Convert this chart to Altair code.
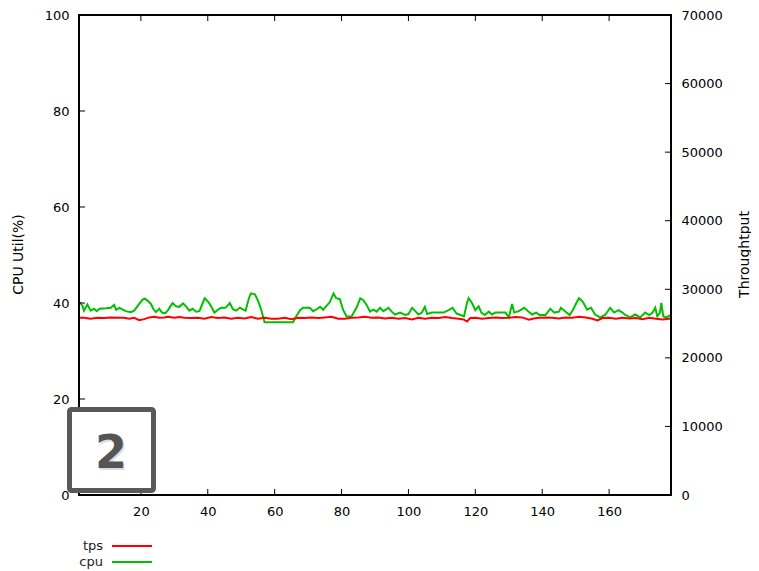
import altair as alt
import pandas as pd

cpu_x = [1.5, 2.5, 3.0, 4.0, 5.0, 6.0, 6.8, 7.6, 9.6, 11.0, 12.0, 12.6, 13.6, 14.6, 15.5, 17.0, 18.0,
         19.5, 20.5, 21.2, 22.0, 23.0, 23.7, 24.5, 25.5, 26.3, 27.3, 28.0, 29.0, 29.5, 30.5, 31.5,
         32.6, 33.5, 34.5, 35.5, 36.5, 37.5, 38.5, 39.1, 40.2, 41.0, 42.0, 43.0, 44.0, 45.3, 46.6,
         47.5, 48.5, 49.6, 50.6, 51.3, 52.3, 52.9, 54.1, 55.0, 55.8, 57.0, 65.5, 66.5, 67.6, 68.5,
         70.5, 71.5, 72.8, 73.6, 74.5, 75.5, 76.5, 77.6, 78.4, 79.5, 80.5, 81.5, 83.0, 84.6, 85.6,
         86.5, 87.5, 88.5, 89.5, 90.5, 91.5, 92.5, 93.2, 94.0, 95.0, 96.0, 97.5, 99.0, 100.0, 101.1,
         102.2, 103.0, 104.0, 104.9, 105.6, 107.0, 110.5, 112.0, 113.2, 114.4, 115.6, 116.6, 117.5,
         118.0, 119.0, 120.0, 121.0, 121.8, 122.8, 124.0, 125.0, 126.0, 129.0, 130.0, 131.0, 131.6,
         133.0, 134.6, 135.6, 137.0, 138.2, 139.2, 141.0, 142.4, 143.6, 145.0, 145.6, 146.8, 148.2,
         149.2, 150.2, 151.0, 152.2, 153.4, 154.6, 155.8, 157.3, 158.8, 160.3, 161.5, 162.8, 164.0,
         164.8, 166.3, 167.8, 169.3, 170.8, 172.0, 173.0, 173.8, 174.4, 175.2, 175.6, 176.2, 177.0,
         178.5]
cpu_v = [40.3, 39.5, 38.4, 39.7, 38.4, 38.8, 38.3, 38.8, 38.9, 39.0, 39.6, 38.6, 39.0, 38.6, 38.3,
         38.1, 38.4, 39.8, 40.7, 40.9, 40.5, 39.8, 38.8, 38.1, 38.8, 38.0, 37.9, 38.4, 39.5, 40.0,
         39.3, 39.2, 39.9, 39.3, 38.4, 38.8, 38.2, 38.3, 40.0, 41.0, 40.2, 39.3, 38.0, 38.6, 39.0,
         39.0, 40.0, 38.7, 38.4, 39.0, 38.6, 38.4, 41.0, 42.0, 41.8, 40.5, 39.0, 36.0, 36.0, 37.3,
         38.5, 39.0, 39.0, 38.3, 38.8, 39.2, 38.6, 39.4, 40.2, 42.0, 41.0, 40.8, 38.5, 37.2, 37.2,
         39.2, 41.0, 40.6, 39.6, 38.2, 38.6, 38.2, 39.0, 38.3, 38.6, 39.0, 38.2, 37.6, 38.0, 37.5,
         37.7, 39.0, 38.2, 37.6, 38.0, 39.2, 37.7, 38.0, 38.0, 38.5, 39.0, 37.8, 37.5, 37.2, 40.0,
         41.0, 40.0, 38.5, 39.3, 38.0, 37.5, 38.2, 37.6, 38.0, 38.0, 37.0, 39.8, 38.0, 38.3, 39.0,
         38.4, 37.6, 38.0, 37.5, 37.5, 38.8, 38.0, 38.2, 39.0, 38.3, 37.5, 38.6, 40.0, 41.0, 40.2,
         38.6, 39.0, 37.6, 37.0, 37.5, 39.0, 38.0, 38.5, 38.0, 37.5, 37.0, 37.6, 37.0, 38.0, 37.5,
         38.0, 39.0, 37.2, 38.0, 40.0, 37.2, 37.0, 37.5]

tps_x = [1.5, 3, 5, 7, 9, 11, 13, 15, 16.5, 18, 19.5, 21, 22.5, 24, 25.5, 27, 28, 30, 31.5, 33, 35,
         37, 39, 41, 43, 45, 47, 49, 51, 53, 55, 57, 59, 61, 63, 65, 67, 69, 71, 73, 75, 77, 79, 81,
         83, 85, 87, 89, 91, 93, 95, 97, 99, 101, 103, 105, 107, 109, 111, 113, 115, 116.5, 117.5,
         118.5, 120, 122, 124, 126, 128, 130, 132, 134, 136, 137.5, 139, 141, 143, 145, 147, 149,
         151, 153, 155, 156.5, 158, 160, 162, 164, 166, 168, 170, 172, 174, 176, 178.5]
tps_v = [25850, 25850, 25700, 25850, 25800, 25900, 25850, 25850, 25700, 25850, 25500, 25650, 25900,
         26000, 25850, 25900, 26000, 25850, 25950, 25850, 25800, 25850, 25700, 25950, 25800, 25900,
         25700, 25850, 25750, 25950, 25700, 25850, 25700, 25700, 25850, 25650, 25850, 25800, 25900,
         25800, 25900, 26000, 25700, 25700, 25850, 25900, 26000, 25850, 25900, 25750, 25850, 25700,
         25800, 25600, 25850, 25700, 25850, 25800, 25950, 25800, 25700, 25600, 25300, 25800, 25850,
         25700, 25800, 25900, 25800, 25850, 25950, 25900, 25550, 25750, 25850, 25900, 25850, 25750,
         25900, 25850, 26000, 25900, 25700, 25450, 25800, 25850, 25700, 25850, 25750, 25800, 25650,
         25850, 25700, 25600, 25750]

x_ticks = [20, 40, 60, 80, 100, 120, 140, 160]
y_ticks = [0, 20, 40, 60, 80, 100]
y2_ticks = [0, 10000, 20000, 30000, 40000, 50000, 60000, 70000]
series_names = ["tps", "cpu"]
series_colors = ["#ff0000", "#00c000"]
badge_label = "2"

W, H = 592, 480
FONT = "DejaVu Sans"

cpu_df = pd.DataFrame({"x": cpu_x, "v": cpu_v})
tps_df = pd.DataFrame({"x": tps_x, "v": tps_v})
xt_df = pd.DataFrame({"t": x_ticks})
yt_df = pd.DataFrame({"t": y_ticks})
y2t_df = pd.DataFrame({"t": y2_ticks})
one = pd.DataFrame({"a": [0]})

xscale = alt.Scale(domain=[1.5, 178.5], nice=False, zero=False)
yscale = alt.Scale(domain=[0, 100], nice=False)
y2scale = alt.Scale(domain=[0, 70000], nice=False)

common_axis = dict(domain=False, ticks=False, tickSize=0, grid=False, labelFont=FONT,
                   labelFontSize=13, labelColor="#000", titleFont=FONT, titleFontSize=14,
                   titleFontWeight="normal", titleColor="#000")

cpu_line = alt.Chart(cpu_df).mark_line(color=series_colors[1], strokeWidth=2).encode(
    x=alt.X("x:Q", scale=xscale,
            axis=alt.Axis(values=x_ticks, labelPadding=10, title=None, format="d", **common_axis)),
    y=alt.Y("v:Q", scale=yscale,
            axis=alt.Axis(orient="left", values=y_ticks, labelPadding=10, title="CPU Util(%)",
                          format="d", titleX=-61, titleY=239, titleAngle=270, titleAlign="center",
                          titleBaseline="middle", **common_axis)),
)

tps_line = alt.Chart(tps_df).mark_line(color=series_colors[0], strokeWidth=2).encode(
    x=alt.X("x:Q", scale=xscale),
    y=alt.Y("v:Q", scale=y2scale,
            axis=alt.Axis(orient="right", values=y2_ticks, labelPadding=10, title="Throughtput",
                          format="d", titleX=73, titleY=239, titleAngle=270, titleAlign="center",
                          titleBaseline="middle", **common_axis)),
)

tick_style = dict(color="#000", strokeWidth=1)
left_ticks = alt.Chart(yt_df).mark_rule(**tick_style).encode(
    y=alt.Y("t:Q", scale=yscale, axis=None), x=alt.value(0), x2=alt.value(6))
right_ticks = alt.Chart(y2t_df).mark_rule(**tick_style).encode(
    y=alt.Y("t:Q", scale=y2scale, axis=None), x=alt.value(W - 6), x2=alt.value(W))
bottom_ticks = alt.Chart(xt_df).mark_rule(**tick_style).encode(
    x=alt.X("t:Q", scale=xscale), y=alt.value(H - 6), y2=alt.value(H))
top_ticks = alt.Chart(xt_df).mark_rule(**tick_style).encode(
    x=alt.X("t:Q", scale=xscale), y=alt.value(0), y2=alt.value(6))

frame = alt.Chart(one).mark_rect(fillOpacity=0, stroke="#000", strokeWidth=2).encode(
    x=alt.value(0), x2=alt.value(W), y=alt.value(0), y2=alt.value(H))

badge = alt.Chart(one).mark_rect(fill="white", stroke="#595959", strokeWidth=5,
                                 cornerRadius=2).encode(
    x=alt.value(-9.5), x2=alt.value(74.5), y=alt.value(394.5), y2=alt.value(475.5))
badge_shadow = alt.Chart(one).mark_text(font=FONT, fontSize=46, fontWeight="bold",
                                        color="#dcdcdc", align="center",
                                        baseline="alphabetic").encode(
    x=alt.value(33.5), y=alt.value(454.5), text=alt.value(badge_label))
badge_text = alt.Chart(one).mark_text(font=FONT, fontSize=46, fontWeight="bold",
                                      color="#555555", align="center",
                                      baseline="alphabetic").encode(
    x=alt.value(32), y=alt.value(453), text=alt.value(badge_label))

leg_layers = []
for i, (name, col) in enumerate(zip(series_names, series_colors)):
    yy = 531 + 16 * i
    leg_layers.append(alt.Chart(one).mark_text(font=FONT, fontSize=13, color="#222",
                                               align="right", baseline="middle").encode(
        x=alt.value(24), y=alt.value(yy), text=alt.value(name)))
    leg_layers.append(alt.Chart(one).mark_rule(color=col, strokeWidth=2).encode(
        x=alt.value(33), x2=alt.value(73), y=alt.value(yy)))

chart = alt.layer(
    cpu_line, tps_line, left_ticks, right_ticks, bottom_ticks, top_ticks, frame,
    badge, badge_shadow, badge_text, *leg_layers
).resolve_scale(y="independent").properties(
    width=W, height=H,
    autosize=alt.AutoSizeParams(type="none"),
    padding={"left": 71, "top": 7, "right": 80, "bottom": 74},
).configure_view(stroke=None).configure(background="white")

chart.save("out.html", embed_options={"renderer": "svg", "actions": False})
